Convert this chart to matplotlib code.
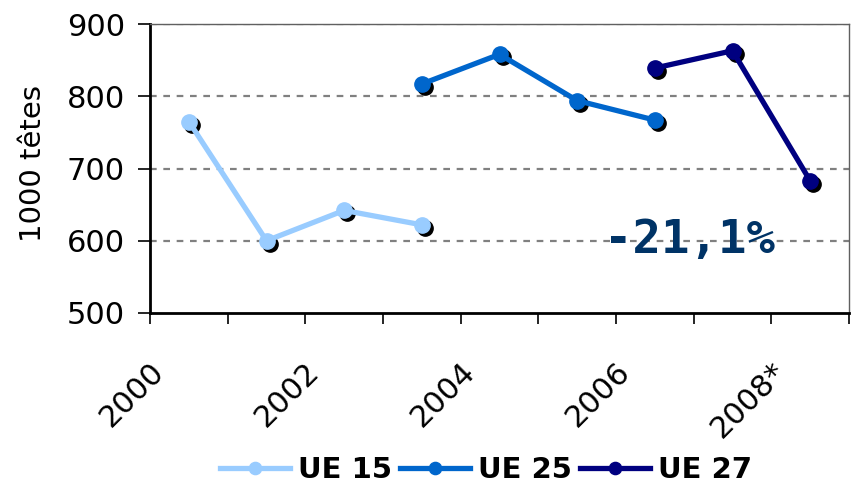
import matplotlib
matplotlib.use("Agg")
import matplotlib.pyplot as plt
from matplotlib.transforms import ScaledTranslation
import numpy as np

years = ["2000", "2001", "2002", "2003", "2004", "2005", "2006", "2007", "2008*"]
ue15_years = ["2000", "2001", "2002", "2003"]
ue15_vals = [765, 600, 642, 622]
ue25_years = ["2003", "2004", "2005", "2006"]
ue25_vals = [817, 858, 794, 767]
ue27_years = ["2006", "2007", "2008*"]
ue27_vals = [839, 863, 683]
series_names = ["UE 15", "UE 25", "UE 27"]
colors = ["#99CCFF", "#0066CC", "#000080"]
annotation = "-21,1%"
ylabel = "1000 têtes"
yticks = [500, 600, 700, 800, 900]

plt.rcParams['font.family'] = ['DejaVu Sans']

fig = plt.figure(figsize=(8.55, 4.91), dpi=100)
ax = fig.add_axes([150/855, (491-313)/491, (849-150)/855, (313-24)/491])

idx = {y: i + 0.5 for i, y in enumerate(years)}
shadow = ax.transData + ScaledTranslation(3/100, -3/100, fig.dpi_scale_trans)

handles = []
for name, yrs, vals, c in zip(series_names, [ue15_years, ue25_years, ue27_years],
                               [ue15_vals, ue25_vals, ue27_vals], colors):
    xs = [idx[y] for y in yrs]
    ax.plot(xs, vals, 'o', color='black', markersize=11, transform=shadow, zorder=3)
    h, = ax.plot(xs, vals, '-o', color=c, lw=3.8, markersize=11, label=name, zorder=4)
    handles.append(h)

ax.set_xlim(0, len(years))
ax.set_ylim(500, 900)
ax.set_yticks(yticks)
ax.set_yticklabels([str(v) for v in yticks], fontsize=22)
for v in yticks[1:]:
    ax.axhline(v, color='#808080', lw=1.6, ls=(0, (3, 3)), zorder=1)

ax.set_xticks(np.arange(0, len(years) + 1))
ax.set_xticklabels([])
ax.tick_params(axis='x', length=8, width=1.2, direction='out')
ax.tick_params(axis='y', length=9, width=1.2, direction='out', pad=9)

off = ScaledTranslation(-19/100, -44/100, fig.dpi_scale_trans)
for i, y in enumerate(years):
    if i % 2 == 0:
        ax.text(i + 0.5, 500, y, transform=ax.transData + off, rotation=45,
                ha='right', va='top', fontsize=22, rotation_mode='default')

for s in ['left', 'bottom']:
    ax.spines[s].set_linewidth(2)
    ax.spines[s].set_color('black')
for s in ['top', 'right']:
    ax.spines[s].set_linewidth(1)
    ax.spines[s].set_color('#606060')

ax.text(33/855, 1 - 164/491, ylabel, transform=fig.transFigure,
        rotation=90, ha='center', va='center', fontsize=21)

ax.text(idx["2006"] + 0.45, 600, annotation, color='#003366', fontsize=34,
        fontweight='bold', family='DejaVu Sans Mono', ha='center', va='center', zorder=5)

fig.legend(handles=handles, loc='center', bbox_to_anchor=(486/855, (491-470)/491), ncol=3,
           frameon=False, prop={'weight': 'bold', 'size': 21}, handlelength=2.4,
           columnspacing=0.3, handletextpad=0.25, borderaxespad=0, markerscale=0.8)

fig.savefig("out.png", dpi=100)
